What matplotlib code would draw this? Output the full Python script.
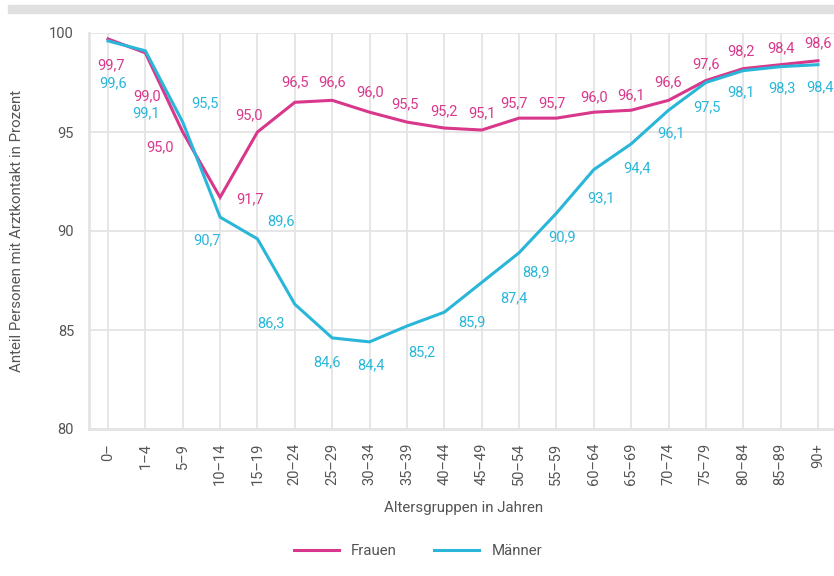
import matplotlib
matplotlib.use("Agg")
import matplotlib.pyplot as plt
from matplotlib.patches import Rectangle
from matplotlib.lines import Line2D

plt.rcParams['font.family'] = ['Roboto', 'DejaVu Sans']

categories = ["0–", "1–4", "5–9", "10–14", "15–19", "20–24", "25–29", "30–34",
              "35–39", "40–44", "45–49", "50–54", "55–59", "60–64", "65–69",
              "70–74", "75–79", "80–84", "85–89", "90+"]
frauen = [99.7, 99.0, 95.0, 91.7, 95.0, 96.5, 96.6, 96.0, 95.5, 95.2, 95.1,
          95.7, 95.7, 96.0, 96.1, 96.6, 97.6, 98.2, 98.4, 98.6]
maenner = [99.6, 99.1, 95.5, 90.7, 89.6, 86.3, 84.6, 84.4, 85.2, 85.9, 87.4,
           88.9, 90.9, 93.1, 94.4, 96.1, 97.5, 98.1, 98.3, 98.4]
y_ticks = [80, 85, 90, 95, 100]

# label offsets in pixels (dx right, dy down)
off_f = [(3, 26), (2, 43), (-23, 15), (30, 2), (-8, -17), (0, -20), (0, -18),
         (0, -20), (-2, -18), (0, -17), (0, -17), (-5, -15), (-4, -15),
         (0, -15), (0, -15), (0, -18), (0, -16), (-2, -17), (0, -16), (0, -17)]
off_m = [(5, 42), (1, 62), (22, -19), (-13, 23), (24, -18), (-24, 19), (-5, 24),
         (1, 23), (15, 26), (28, 10), (32, 16), (17, 20), (6, 24), (7, 29),
         (6, 24), (3, 23), (1, 25), (-2, 22), (1, 22), (2, 23)]

C_F = "#d8378b"
C_M = "#2ab6d9"
GRID = "#e4e4e4"
TXT = "#555555"

W, H = 834, 576
fig = plt.figure(figsize=(W / 100, H / 100), dpi=100)
fig.patches.append(Rectangle((8 / W, 1 - 13 / H), 1, 8 / H, transform=fig.transFigure,
                             color="#e0e0e0", zorder=0))

ax = fig.add_axes([89.3 / W, 1 - 429 / H, 747.4 / W, 396 / H])
x = list(range(len(categories)))
ax.set_xlim(-0.5, len(categories) - 0.5)
ax.set_ylim(80, 100)
ax.set_yticks(y_ticks)
ax.set_yticklabels([str(v) for v in y_ticks])
ax.set_xticks(x)
ax.set_xticklabels(categories, rotation=90)
ax.grid(True, color=GRID, lw=1.3)
ax.set_axisbelow(True)
for s in ["top", "right"]:
    ax.spines[s].set_visible(False)
for s in ["left", "bottom"]:
    ax.spines[s].set_color(GRID)
    ax.spines[s].set_linewidth(2)
ax.tick_params(length=0, colors=TXT, labelsize=10.5)
ax.tick_params(axis="y", pad=11)
ax.tick_params(axis="x", pad=10)

ax.plot(x, frauen, color=C_F, lw=2.2, clip_on=False, solid_joinstyle="miter")
ax.plot(x, maenner, color=C_M, lw=2.2, clip_on=False, solid_joinstyle="miter")

def fmt(v):
    return f"{v:.1f}".replace(".", ",")

for i, v in enumerate(frauen):
    dx, dy = off_f[i]
    ax.annotate(fmt(v), (i, v), xytext=(dx, -dy), textcoords="offset pixels",
                ha="center", va="center", color=C_F, fontsize=10.5, annotation_clip=False)
for i, v in enumerate(maenner):
    dx, dy = off_m[i]
    ax.annotate(fmt(v), (i, v), xytext=(dx, -dy), textcoords="offset pixels",
                ha="center", va="center", color=C_M, fontsize=10.5, annotation_clip=False)

fig.text(464 / W, 1 - 508 / H, "Altersgruppen in Jahren", ha="center", va="center",
         color=TXT, fontsize=10.8)
fig.text(17 / W, 1 - 231 / H, "Anteil Personen mit Arztkontakt in Prozent", ha="center",
         va="center", rotation=90, color=TXT, fontsize=10.8)

handles = [Line2D([], [], color=C_F, lw=2.2), Line2D([], [], color=C_M, lw=2.2)]
fig.legend(handles, ["Frauen", "Männer"], loc="center", bbox_to_anchor=(418 / W, 1 - 551 / H),
           ncol=2, frameon=False, fontsize=10.8, labelcolor=TXT, handlelength=3,
           columnspacing=2.5, handletextpad=0.8)

fig.savefig("out.png", dpi=100)
